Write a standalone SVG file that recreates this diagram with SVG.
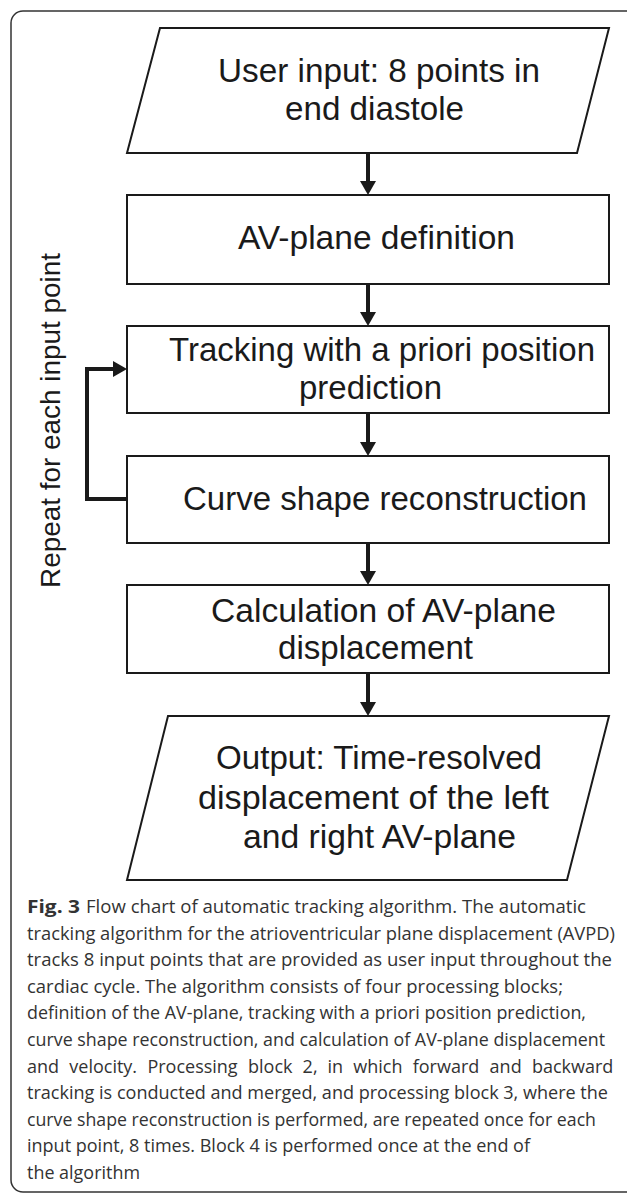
<svg xmlns="http://www.w3.org/2000/svg" width="627" height="1194" viewBox="0 0 627 1194">
<style>
.shape{fill:#fff;stroke:#1a1a1a;stroke-width:2}
.lbl{font-family:"Liberation Sans",Arial,Helvetica,sans-serif;font-size:33px;fill:#1a1a1a}
.side{font-family:"Liberation Sans",Arial,Helvetica,sans-serif;font-size:28px;fill:#1a1a1a}
.conn{fill:none;stroke:#1a1a1a;stroke-width:4}
.cap{font-family:"Open Sans","Noto Sans",sans-serif;font-size:18px;fill:#333}
.capb{font-family:"Open Sans","Noto Sans",sans-serif;font-size:18px;font-weight:bold;fill:#333}
</style>
<defs>
<marker id="ah" markerUnits="userSpaceOnUse" viewBox="0 0 14 16" markerWidth="14" markerHeight="16" refX="2" refY="8" orient="auto">
<path d="M0,0 L14,8 L0,16 Z" fill="#1a1a1a"/>
</marker>
</defs>
<rect width="627" height="1194" fill="#fff"/>
<path d="M627,11 H23 A12,12 0 0 0 11,23 V1180 A12,12 0 0 0 23,1192 H627" fill="none" stroke="#333" stroke-width="1.5"/>

<g id="connectors">
<line class="conn" x1="368" y1="153" x2="368" y2="183" marker-end="url(#ah)"/>
<line class="conn" x1="368" y1="284" x2="368" y2="314" marker-end="url(#ah)"/>
<line class="conn" x1="368" y1="413" x2="368" y2="444" marker-end="url(#ah)"/>
<line class="conn" x1="368" y1="543" x2="368" y2="573" marker-end="url(#ah)"/>
<line class="conn" x1="368" y1="673" x2="368" y2="704" marker-end="url(#ah)"/>
<path class="conn" d="M129,499 H87 V369 H115" marker-end="url(#ah)"/>
</g>

<g id="loop-label">
<text class="side" transform="translate(60,588) rotate(-90)" textLength="335" lengthAdjust="spacingAndGlyphs">Repeat for each input point</text>
</g>

<g id="node-input">
<polygon class="shape" points="160,28 609,28 577,153 127,153"/>
<text class="lbl" x="218" y="82" textLength="322" lengthAdjust="spacingAndGlyphs">User input: 8 points in</text>
<text class="lbl" x="285" y="120" textLength="179" lengthAdjust="spacingAndGlyphs">end diastole</text>
</g>

<g id="node-avplane">
<rect class="shape" x="127" y="195" width="482" height="89"/>
<text class="lbl" x="238" y="249" textLength="277" lengthAdjust="spacingAndGlyphs">AV-plane definition</text>
</g>

<g id="node-tracking">
<rect class="shape" x="127" y="326" width="482" height="87"/>
<text class="lbl" x="169" y="361" textLength="426" lengthAdjust="spacingAndGlyphs">Tracking with a priori position</text>
<text class="lbl" x="299" y="399" textLength="143" lengthAdjust="spacingAndGlyphs">prediction</text>
</g>

<g id="node-curve">
<rect class="shape" x="127" y="456" width="482" height="87"/>
<text class="lbl" x="183" y="510" textLength="404" lengthAdjust="spacingAndGlyphs">Curve shape reconstruction</text>
</g>

<g id="node-calc">
<rect class="shape" x="127" y="585" width="482" height="88"/>
<text class="lbl" x="211" y="622" textLength="345" lengthAdjust="spacingAndGlyphs">Calculation of AV-plane</text>
<text class="lbl" x="278" y="659" textLength="195" lengthAdjust="spacingAndGlyphs">displacement</text>
</g>

<g id="node-output">
<polygon class="shape" points="168,716 609,716 567,880 127,880"/>
<text class="lbl" x="216" y="769" textLength="326" lengthAdjust="spacingAndGlyphs">Output: Time-resolved</text>
<text class="lbl" x="198" y="809" textLength="351" lengthAdjust="spacingAndGlyphs">displacement of the left</text>
<text class="lbl" x="243" y="848" textLength="273" lengthAdjust="spacingAndGlyphs">and right AV-plane</text>
</g>

<g id="caption">
<text class="capb" x="27" y="913" textLength="53" lengthAdjust="spacingAndGlyphs">Fig. 3</text>
<text class="cap" x="86" y="913" textLength="500" lengthAdjust="spacingAndGlyphs">Flow chart of automatic tracking algorithm. The automatic</text>
<text class="cap" x="27" y="939.6" textLength="588" lengthAdjust="spacingAndGlyphs">tracking algorithm for the atrioventricular plane displacement (AVPD)</text>
<text class="cap" x="27" y="966.2" textLength="585" lengthAdjust="spacingAndGlyphs">tracks 8 input points that are provided as user input throughout the</text>
<text class="cap" x="27" y="992.8" textLength="536" lengthAdjust="spacingAndGlyphs">cardiac cycle. The algorithm consists of four processing blocks;</text>
<text class="cap" x="27" y="1019.4" textLength="559" lengthAdjust="spacingAndGlyphs">definition of the AV-plane, tracking with a priori position prediction,</text>
<text class="cap" x="27" y="1046" textLength="578" lengthAdjust="spacingAndGlyphs">curve shape reconstruction, and calculation of AV-plane displacement</text>
<text class="cap" y="1072.6"><tspan x="27">and</tspan><tspan x="69.3">velocity.</tspan><tspan x="147.4">Processing</tspan><tspan x="248">block</tspan><tspan x="302.6">2,</tspan><tspan x="327.5">in</tspan><tspan x="353.3">which</tspan><tspan x="412.7">forward</tspan><tspan x="489.6">and</tspan><tspan x="531.9">backward</tspan></text>
<text class="cap" x="27" y="1099.2" textLength="581" lengthAdjust="spacingAndGlyphs">tracking is conducted and merged, and processing block 3, where the</text>
<text class="cap" x="27" y="1125.8" textLength="569" lengthAdjust="spacingAndGlyphs">curve shape reconstruction is performed, are repeated once for each</text>
<text class="cap" x="27" y="1152.4" textLength="503" lengthAdjust="spacingAndGlyphs">input point, 8 times. Block 4 is performed once at the end of</text>
<text class="cap" x="27" y="1179" textLength="113" lengthAdjust="spacingAndGlyphs">the algorithm</text>
</g>
</svg>
